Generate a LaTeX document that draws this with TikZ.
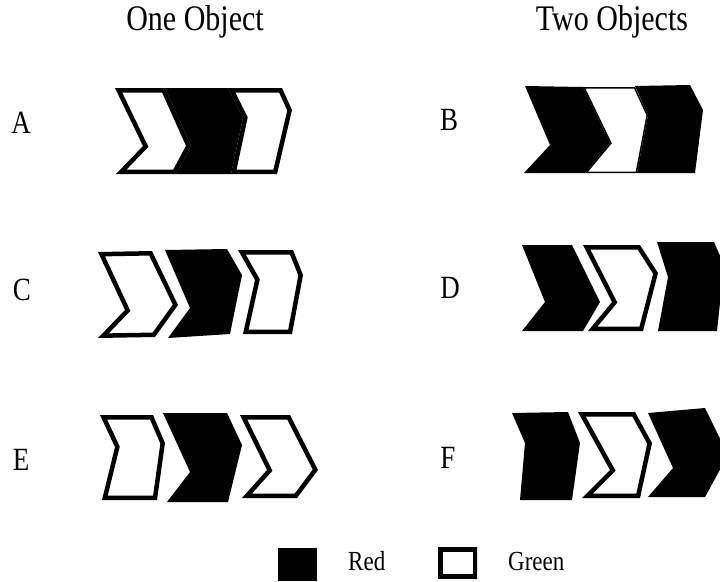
\documentclass[tikz,border=0pt]{standalone}
\usepackage{fontspec}
\usepackage{graphicx}
\setmainfont{Liberation Serif}
\newcommand\wshape[2][9pt]{\begin{scope}\clip #2 -- cycle; \draw[line width=#1, fill=white, line join=miter] #2 -- cycle;\end{scope}}
\newcommand\bshape[1]{\fill[black] #1 -- cycle;}
\newcommand\tall[1]{\scalebox{1}[1.2]{#1}}
\begin{document}
\begin{tikzpicture}[x=1pt,y=-1pt,
  ttl/.style={inner sep=0pt, anchor=base, font=\fontsize{30}{32}\selectfont},
  lbl/.style={inner sep=0pt, anchor=base, font=\fontsize{27}{29}\selectfont},
  leg/.style={inner sep=0pt, anchor=base west, font=\fontsize{23}{25}\selectfont}]
\useasboundingbox (0,0) rectangle (720,581);
\clip (0,0) rectangle (720,581);
% titles
\node[ttl] (t1) at (195,30) {\tall{One Object}};
\node[ttl] (t2) at (612,30) {\tall{Two Objects}};
% row labels
\node[lbl] (la) at (21,133) {\tall{A}};
\node[lbl] (lb) at (449,130) {\tall{B}};
\node[lbl] (lc) at (22,300) {\tall{C}};
\node[lbl] (ld) at (450,298) {\tall{D}};
\node[lbl] (le) at (21,470) {\tall{E}};
\node[lbl] (lf) at (448,468) {\tall{F}};
% A
\wshape{(115,88) -- (143,146) -- (116,174) -- (176,174) -- (191,146) -- (165,88)}
\wshape{(228,88) -- (243,118) -- (231,174) -- (277,174) -- (292,110) -- (282,88)}
\bshape{(165,88) -- (191,146) -- (176,174) -- (231,174) -- (243,118) -- (228,88)}
% B
\wshape[3pt]{(583,87) -- (610,143) -- (585,173) -- (637,173) -- (648,115) -- (635,87)}
\bshape{(525,86) -- (550,145) -- (524,173) -- (585,173) -- (610,143) -- (583,87)}
\bshape{(635,86) -- (648,115) -- (637,173) -- (695,173) -- (703,110) -- (690,85)}
% C
\wshape{(98,252) -- (125,310) -- (98,338) -- (155,337) -- (178,305) -- (152,251)}
\bshape{(165,250) -- (190,308) -- (168,338) -- (230,334) -- (242,275) -- (227,249)}
\wshape{(238,250) -- (255,280) -- (243,334) -- (292,334) -- (303,275) -- (293,250)}
% D
\bshape{(522,245) -- (545,302) -- (522,331) -- (583,331) -- (600,302) -- (572,245)}
\wshape{(583,245) -- (612,302) -- (588,331) -- (643,331) -- (658,273) -- (640,245)}
\bshape{(657,242) -- (668,277) -- (658,331) -- (717,331) -- (724,265) -- (714,242)}
% E
\wshape{(100,415) -- (115,447) -- (102,500) -- (157,500) -- (165,443) -- (153,415)}
\bshape{(163,413) -- (190,472) -- (167,502) -- (228,502) -- (242,445) -- (227,413)}
\wshape{(240,415) -- (267,470) -- (242,498) -- (297,498) -- (318,470) -- (290,415)}
% F
\bshape{(512,413) -- (525,443) -- (520,500) -- (572,500) -- (580,443) -- (568,412)}
\wshape{(578,412) -- (610,470) -- (582,498) -- (640,498) -- (652,443) -- (635,412)}
\bshape{(648,413) -- (673,468) -- (648,497) -- (705,497) -- (728,455) -- (705,408)}
% legend
\fill[black] (278,548) rectangle (317,581);
\node[leg] (red) at (348,570) {\tall{Red}};
\begin{scope}\clip (438,547) rectangle (477,578); \draw[line width=9pt, fill=white] (438,547) rectangle (477,578);\end{scope}
\node[leg] (green) at (508,570) {\tall{Green}};
\end{tikzpicture}
\end{document}
